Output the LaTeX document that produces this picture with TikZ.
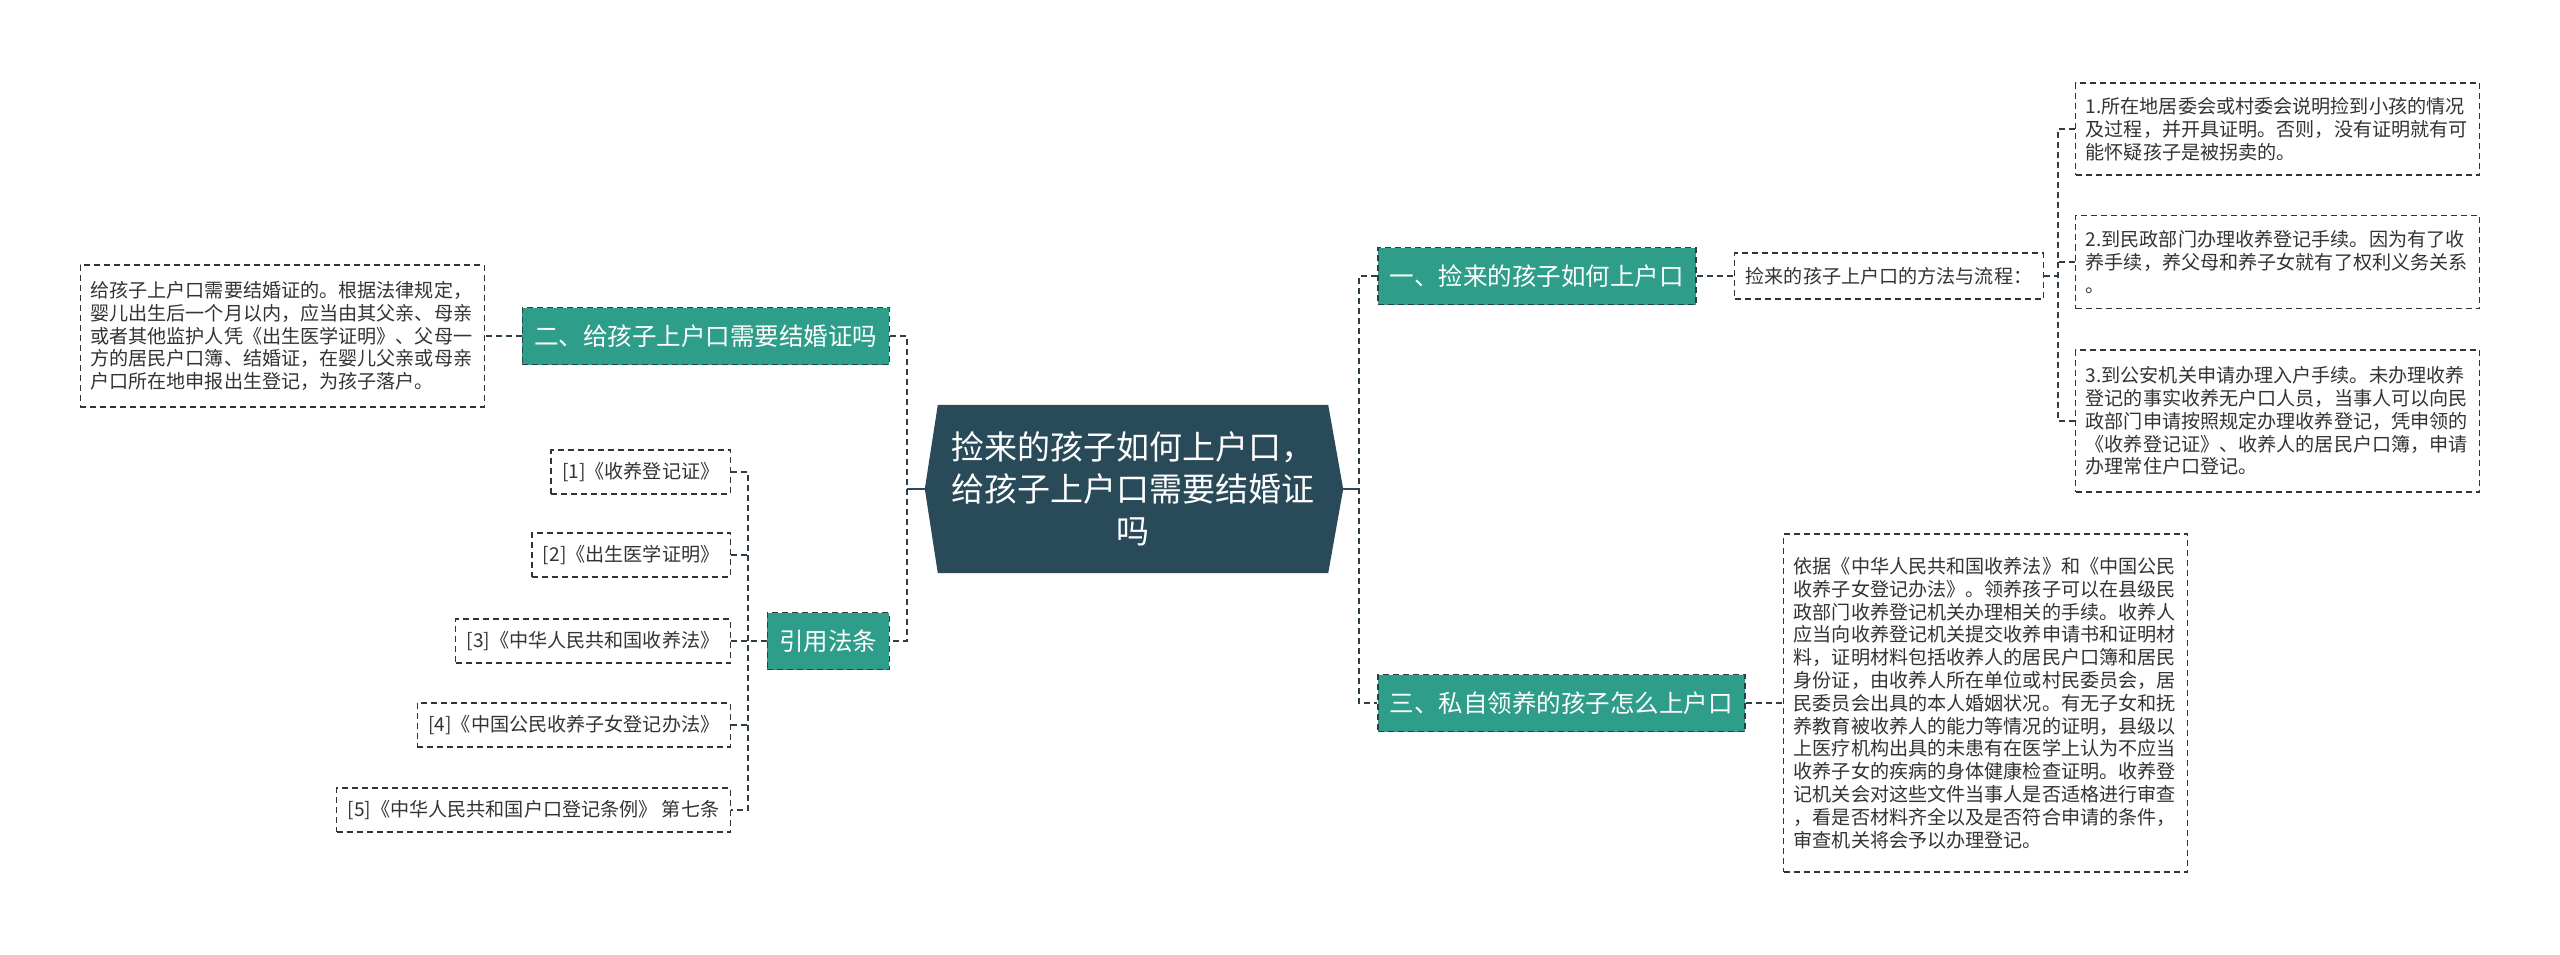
\documentclass[tikz,border=0pt]{standalone}
\usepackage{fontspec}
\newfontfamily\cjk{Noto Sans CJK SC}
\usetikzlibrary{backgrounds}
\definecolor{hubblue}{HTML}{294A59}
\definecolor{mint}{HTML}{2E9E8A}
\definecolor{inkgray}{HTML}{333333}
\definecolor{linkgray}{HTML}{2F3E46}

\begin{document}
\begin{tikzpicture}[x=1pt, y=-1pt,
	hub/.style={text=white, align=center, minimum width=390pt, minimum height=168pt, inner sep=0pt, font=\cjk\fontsize{33}{42}\selectfont},
	topic/.style={fill=mint, draw=linkgray, dash pattern=on 6pt off 4pt, line width=1.5pt, text=white, minimum height=57pt, inner xsep=12pt, inner ysep=0pt, font=\cjk\fontsize{24.5}{29}\selectfont},
	lawref/.style={fill=white, draw=inkgray, dash pattern=on 6pt off 4pt, line width=1.4pt, text=inkgray, minimum height=44pt, inner xsep=11pt, inner ysep=8pt, font=\cjk\fontsize{19.1}{22.8}\selectfont},
	memo/.style={lawref, text width=384pt, align=left, inner xsep=10pt},
	link/.style={draw=linkgray, line width=2pt, dash pattern=on 6pt off 4pt},
	stem/.style={draw=hubblue, line width=2.5pt}]
	\useasboundingbox (0,0) rectangle (2560,955);

	\node[hub] (hub) at (1133,489) {捡来的孩子如何上户口，\\给孩子上户口需要结婚证\\吗};
	\begin{scope}[on background layer]
		\fill[hubblue] (hub.north west) -- (hub.north east) -- ([xshift=15pt]hub.east) -- (hub.south east) -- (hub.south west) -- ([xshift=-13pt]hub.west) -- cycle;
	\end{scope}
	\coordinate (hubL) at ([xshift=-13pt]hub.west);
	\coordinate (hubR) at ([xshift=15pt]hub.east);
	\coordinate (lj) at (907,489);
	\coordinate (rj) at (1359,489);

	\node[topic, anchor=west] (q1) at (1377,276) {一、捡来的孩子如何上户口};
	\node[topic, anchor=west] (q3) at (1377,703) {三、私自领养的孩子怎么上户口};
	\node[topic, anchor=east] (q2) at (890,336) {二、给孩子上户口需要结婚证吗};
	\node[topic, anchor=east] (law) at (890,641) {引用法条};

	\node[lawref, minimum height=46pt, anchor=west] (how) at (1734,276) {捡来的孩子上户口的方法与流程：};
	\node[memo, minimum height=92pt, anchor=west] (s1) at (2075,129) {1.所在地居委会或村委会说明捡到小孩的情况\\及过程，并开具证明。否则，没有证明就有可\\能怀疑孩子是被拐卖的。};
	\node[memo, minimum height=93pt, anchor=west] (s2) at (2075,262) {2.到民政部门办理收养登记手续。因为有了收\\养手续，养父母和养子女就有了权利义务关系\\。};
	\node[memo, minimum height=142pt, anchor=west] (s3) at (2075,421) {3.到公安机关申请办理入户手续。未办理收养\\登记的事实收养无户口人员，当事人可以向民\\政部门申请按照规定办理收养登记，凭申领的\\《收养登记证》、收养人的居民户口簿，申请\\办理常住户口登记。};
	\node[memo, minimum height=338pt, anchor=west] (adopt) at (1783,703) {依据《中华人民共和国收养法》和《中国公民\\收养子女登记办法》。领养孩子可以在县级民\\政部门收养登记机关办理相关的手续。收养人\\应当向收养登记机关提交收养申请书和证明材\\料，证明材料包括收养人的居民户口簿和居民\\身份证，由收养人所在单位或村民委员会，居\\民委员会出具的本人婚姻状况。有无子女和抚\\养教育被收养人的能力等情况的证明，县级以\\上医疗机构出具的未患有在医学上认为不应当\\收养子女的疾病的身体健康检查证明。收养登\\记机关会对这些文件当事人是否适格进行审查\\，看是否材料齐全以及是否符合申请的条件，\\审查机关将会予以办理登记。};
	\node[memo, minimum height=142pt, anchor=east] (note) at (485,336) {给孩子上户口需要结婚证的。根据法律规定，\\婴儿出生后一个月以内，应当由其父亲、母亲\\或者其他监护人凭《出生医学证明》、父母一\\方的居民户口簿、结婚证，在婴儿父亲或母亲\\户口所在地申报出生登记，为孩子落户。};

	\foreach \n/\y/\t in {1/472/{[1]《收养登记证》}, 2/555/{[2]《出生医学证明》}, 3/641/{[3]《中华人民共和国收养法》}, 4/725/{[4]《中国公民收养子女登记办法》}, 5/810/{[5]《中华人民共和国户口登记条例》 第七条}}
		\node[lawref, anchor=east] (c\n) at (731,\y) {\t};
	\coordinate (cj) at (748,641);
	\coordinate (hj) at (2058,276);

	\draw[stem] (hubL) -- (lj);
	\draw[stem] (hubR) -- (rj);
	\draw[link] (q2.east) -- (q2.east -| lj) -- (law.east -| lj) -- (law.east);
	\draw[link] (q1.west) -- (q1.west -| rj) -- (q3.west -| rj) -- (q3.west);
	\draw[link] (q1.east) -- (how.west);
	\draw[link] (how.east) -- (hj);
	\draw[link] (s1.west) -- (s1.west -| hj) -- (s3.west -| hj) -- (s3.west);
	\draw[link] (s2.west) -- (s2.west -| hj);
	\draw[link] (q3.east) -- (adopt.west);
	\draw[link] (q2.west) -- (note.east);
	\draw[link] (law.west) -- (cj);
	\draw[link] (c1.east) -- (c1.east -| cj) -- (c5.east -| cj) -- (c5.east);
	\foreach \n in {2,3,4} \draw[link] (c\n.east) -- (c\n.east -| cj);
\end{tikzpicture}
\end{document}
